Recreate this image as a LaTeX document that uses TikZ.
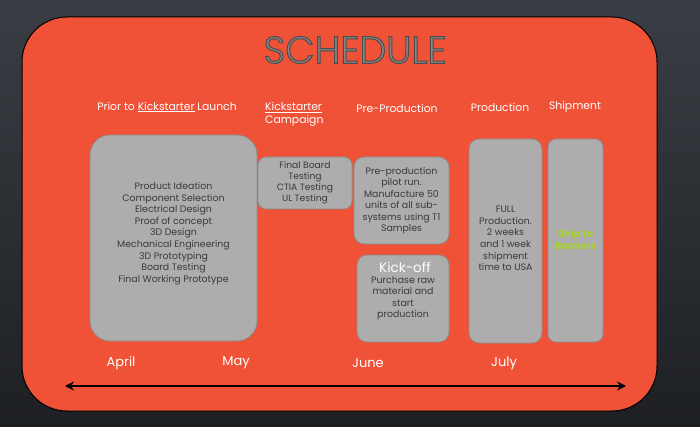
\documentclass[tikz,border=0pt]{standalone}
\usepackage{fontspec}
\setmainfont{Poppins}
\newfontfamily\titlefont{Poppins}[UprightFont=* Light, FakeBold=2.6]
\usetikzlibrary{arrows.meta}
\definecolor{bgtop}{HTML}{3A3E44}
\definecolor{bgbot}{HTML}{1D1F23}
\definecolor{panel}{HTML}{F05237}
\definecolor{boxgray}{HTML}{ADADAD}
\definecolor{boxedge}{HTML}{8C8C8C}
\definecolor{boxtext}{HTML}{3A3A3A}
\definecolor{titlegray}{HTML}{858585}
\definecolor{shipgreen}{HTML}{A8D42A}
\tikzset{
  taskbox/.style={draw=boxedge, line width=0.8pt, fill=boxgray, rounded corners=#1,
    align=center, text=boxtext, font=\fontsize{9.4}{11.5}\selectfont, inner sep=0pt},
  taskbox/.default=8pt,
  boxlabel/.style={align=center, text=boxtext, font=\fontsize{9.4}{11.6}\selectfont, inner sep=0pt},
  header/.style={text=white, font=\fontsize{10.8}{13}\selectfont, inner sep=0pt},
  month/.style={text=white, font=\fontsize{13}{15}\selectfont, inner sep=0pt},
}
\begin{document}
\begin{tikzpicture}[x=1pt,y=-1pt]
\useasboundingbox (0,0) rectangle (700,427);
\shade[top color=bgtop, bottom color=bgbot] (0,0) rectangle (700,427);
\draw[black, line width=1pt, fill=panel, rounded corners=45pt] (22,17) rectangle (657,411);
% title
\node[text=titlegray, font=\titlefont\fontsize{38}{40}\selectfont, inner sep=0pt] (title) at (355,50)
  {\special{pdf:literal direct 0.30 0.30 0.30 RG}SCHEDULE};
% headers
\node[header] (h1) at (167,107) {Prior to \underline{Kickstarter} Launch};
\node[header, align=left, anchor=north west] (h2) at (265,102) {\underline{Kickstarter}\\Campaign};
\node[header] (h3) at (397,108) {Pre-Production};
\node[header] (h4) at (500,107) {Production};
\node[header] (h5) at (575,107) {Shipment};
% boxes
\node[taskbox=20pt, minimum width=167pt, minimum height=206pt] (b1) at (173.5,238) {};
\node[boxlabel] (b1txt) at (173.5,233.5)
  {Product Ideation\\Component Selection\\Electrical Design\\Proof of concept\\3D Design\\Mechanical Engineering\\3D Prototyping\\Board Testing\\Final Working Prototype};
\node[taskbox, minimum width=94pt, minimum height=52pt, font=\fontsize{9.2}{11}\selectfont] (b2) at (305,183)
  {Final Board\\Testing\\CTIA Testing\\UL Testing};
\node[taskbox=10pt, minimum width=95pt, minimum height=87pt] (b3) at (401.5,200.5)
  {Pre-production\\pilot run.\\Manufacture 50\\units of all sub-\\systems using T1\\Samples};
\node[taskbox=10pt, minimum width=92pt, minimum height=87pt] (b4) at (403,298.5) {};
\node[text=white, font=\fontsize{13.5}{15}\selectfont, inner sep=0pt] (kick) at (405,267) {Kick-off};
\node[boxlabel, anchor=north] (kicktxt) at (403,276)
  {Purchase raw\\material and\\start\\production};
\node[taskbox=10pt, minimum width=73pt, minimum height=204pt] (b5) at (505.5,241) {};
\node[boxlabel] (b5txt) at (505.5,238.5)
  {FULL\\Production.\\2 weeks\\and 1 week\\shipment\\time to USA};
\node[taskbox=8pt, minimum width=55pt, minimum height=203pt] (b6) at (575.5,240.5) {};
\node[text=shipgreen, font=\bfseries\fontsize{10}{12}\selectfont, align=center, inner sep=0pt] (b6txt) at (575.5,240)
  {Ship to\\Backers};
% months
\node[month] (m1) at (121,363) {April};
\node[month] (m2) at (236,363) {May};
\node[month] (m3) at (368,363) {June};
\node[month] (m4) at (504,363) {July};
% timeline arrow
\coordinate (tl) at (65,386);
\coordinate (tr) at (626,386);
\draw[black, line width=2.4pt, {Stealth[length=9pt,width=9pt]}-{Stealth[length=9pt,width=9pt]}] (tl) -- (tr);
\end{tikzpicture}
\end{document}
